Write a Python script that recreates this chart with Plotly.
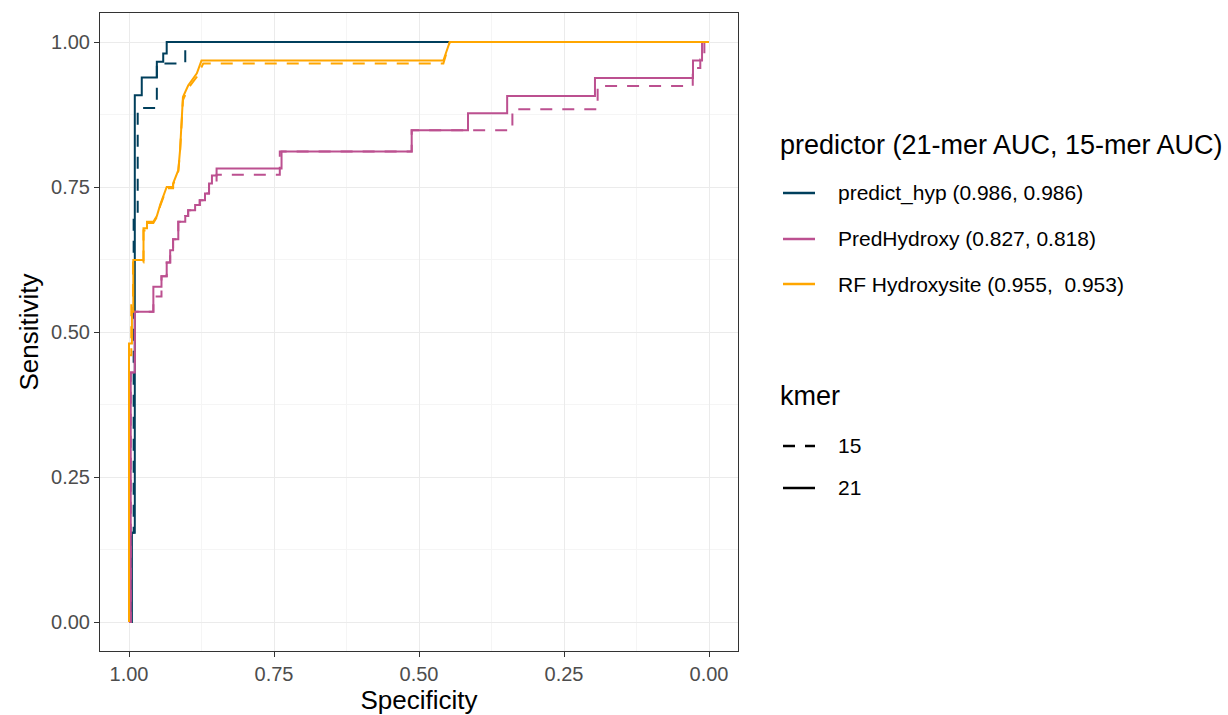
import plotly.graph_objects as go

# ---- data ----
hyp21_spec = [1, 0.995, 0.995, 0.990, 0.990, 0.978, 0.978, 0.952, 0.952, 0.941, 0.941, 0.935, 0.935, 0]
hyp21_sens = [0, 0, 0.154, 0.154, 0.908, 0.908, 0.939, 0.939, 0.966, 0.966, 0.980, 0.980, 1, 1]

hyp15_spec = [1, 0.997, 0.997, 0.992, 0.992, 0.985, 0.985, 0.952, 0.952, 0.903, 0.903, 0]
hyp15_sens = [0, 0, 0.154, 0.154, 0.700, 0.700, 0.886, 0.886, 0.963, 0.963, 1, 1]

pred21_spec = [1, 0.997, 0.997, 0.990, 0.990, 0.958, 0.958, 0.944, 0.944, 0.935, 0.935, 0.929, 0.929,
               0.924, 0.924, 0.915, 0.915, 0.903, 0.903, 0.898, 0.898, 0.886, 0.886, 0.878, 0.878,
               0.869, 0.869, 0.862, 0.862, 0.857, 0.857, 0.849, 0.849, 0.737, 0.737, 0.5126, 0.5126,
               0.4155, 0.4155, 0.348, 0.348, 0.1966, 0.1966, 0.0276, 0.0276, 0.012, 0.012, 0]
pred21_sens = [0, 0, 0.43, 0.43, 0.535, 0.535, 0.578, 0.578, 0.596, 0.596, 0.62, 0.62, 0.641,
               0.641, 0.66, 0.66, 0.69, 0.69, 0.70, 0.70, 0.71, 0.71, 0.719, 0.719, 0.727,
               0.727, 0.739, 0.739, 0.756, 0.756, 0.77, 0.77, 0.782, 0.782, 0.811, 0.811, 0.848,
               0.848, 0.877, 0.877, 0.907, 0.907, 0.938, 0.938, 0.968, 0.968, 1, 1]

pred15_spec = [1, 0.997, 0.997, 0.990, 0.990, 0.958, 0.958, 0.944, 0.944, 0.935, 0.935, 0.929, 0.929,
               0.924, 0.924, 0.915, 0.915, 0.903, 0.903, 0.898, 0.898, 0.886, 0.886, 0.878, 0.878,
               0.869, 0.869, 0.862, 0.862, 0.849, 0.849, 0.740, 0.740, 0.5126, 0.5126,
               0.339, 0.339, 0.192, 0.192, 0.028, 0.028, 0.015, 0.015, 0.008, 0.008, 0]
pred15_sens = [0, 0, 0.43, 0.43, 0.535, 0.535, 0.561, 0.561, 0.596, 0.596, 0.62, 0.62, 0.641,
               0.641, 0.66, 0.66, 0.69, 0.69, 0.70, 0.70, 0.71, 0.71, 0.719, 0.719, 0.727,
               0.727, 0.739, 0.739, 0.756, 0.756, 0.771, 0.771, 0.811, 0.811, 0.848,
               0.848, 0.884, 0.884, 0.924, 0.924, 0.955, 0.955, 0.97, 0.97, 1, 1]

rf21_spec = [1, 1, 0.995, 0.995, 0.9926, 0.9926, 0.975, 0.975, 0.969, 0.969, 0.958, 0.952, 0.946,
             0.940, 0.935, 0.924, 0.924, 0.915, 0.912, 0.907, 0.898, 0.883, 0.875, 0.458, 0.447, 0]
rf21_sens = [0, 0.48, 0.48, 0.535, 0.535, 0.624, 0.624, 0.679, 0.679, 0.690, 0.690, 0.700, 0.720,
             0.735, 0.750, 0.750, 0.756, 0.779, 0.813, 0.905, 0.925, 0.946, 0.968, 0.968, 1, 1]

rf15_spec = [1, 1, 0.996, 0.996, 0.993, 0.993, 0.975, 0.975, 0.969, 0.969, 0.958, 0.952, 0.946,
             0.940, 0.935, 0.924, 0.924, 0.915, 0.912, 0.907, 0.898, 0.883, 0.872, 0.458, 0.447, 0]
rf15_sens = [0, 0.46, 0.46, 0.55, 0.55, 0.62, 0.62, 0.675, 0.675, 0.688, 0.688, 0.698, 0.718,
             0.733, 0.748, 0.748, 0.754, 0.777, 0.81, 0.90, 0.92, 0.94, 0.963, 0.963, 1, 1]

predictor_title = "predictor (21-mer AUC, 15-mer AUC)"
predictor_labels = ["predict_hyp (0.986, 0.986)", "PredHydroxy (0.827, 0.818)",
                    "RF Hydroxysite (0.955,  0.953)"]
predictor_colors = ["#003f5c", "#bc5090", "#ffa600"]
kmer_title = "kmer"
kmer_labels = ["15", "21"]
kmer_dash = ["12px,10px", "solid"]

tick_vals = [0, 0.25, 0.5, 0.75, 1.0]
tick_text = ["0.00", "0.25", "0.50", "0.75", "1.00"]

curves = [
    (hyp15_spec, hyp15_sens, 0, 0), (hyp21_spec, hyp21_sens, 0, 1),
    (pred15_spec, pred15_sens, 1, 0), (pred21_spec, pred21_sens, 1, 1),
    (rf15_spec, rf15_sens, 2, 0), (rf21_spec, rf21_sens, 2, 1),
]

fig = go.Figure()
for sx, sy, p, k in curves:
    fig.add_trace(go.Scatter(
        x=sx, y=sy, mode="lines", showlegend=False, hoverinfo="skip",
        line=dict(color=predictor_colors[p], width=2, dash=kmer_dash[k]),
    ))

# ---- legend (drawn in paper coordinates) ----
L, PW = 100, 638   # plot-area left and width (px)
B, PH = 651, 638   # plot-area bottom and height (px)
def px_x(px):
    return (px - L) / PW
def px_y(py):
    return (B - py) / PH

title_x = 778
key_x0, key_x1, text_x = 783, 815, 836
pred_title_y = 145
pred_item_y = [193, 239, 284]
kmer_title_y = 396
kmer_item_y = [446, 488]

annotations = []
shapes = []
annotations.append(dict(text=predictor_title, x=px_x(title_x), y=px_y(pred_title_y),
                        xref="paper", yref="paper", xanchor="left", yanchor="middle",
                        showarrow=False, font=dict(size=27, color="black")))
for lab, col, yy in zip(predictor_labels, predictor_colors, pred_item_y):
    shapes.append(dict(type="line", xref="paper", yref="paper",
                       x0=px_x(key_x0), x1=px_x(key_x1), y0=px_y(yy), y1=px_y(yy),
                       line=dict(color=col, width=2.5)))
    annotations.append(dict(text=lab, x=px_x(text_x), y=px_y(yy), xref="paper", yref="paper",
                            xanchor="left", yanchor="middle", showarrow=False,
                            font=dict(size=21, color="black")))
annotations.append(dict(text=kmer_title, x=px_x(title_x), y=px_y(kmer_title_y),
                        xref="paper", yref="paper", xanchor="left", yanchor="middle",
                        showarrow=False, font=dict(size=27, color="black")))
for lab, dsh, yy in zip(kmer_labels, kmer_dash, kmer_item_y):
    shapes.append(dict(type="line", xref="paper", yref="paper",
                       x0=px_x(key_x0), x1=px_x(key_x1), y0=px_y(yy), y1=px_y(yy),
                       line=dict(color="black", width=2.5, dash=dsh)))
    annotations.append(dict(text=lab, x=px_x(text_x), y=px_y(yy), xref="paper", yref="paper",
                            xanchor="left", yanchor="middle", showarrow=False,
                            font=dict(size=21, color="black")))

font_family = "Liberation Sans, Arial, sans-serif"
axis_common = dict(
    showgrid=True, gridcolor="#ebebeb", gridwidth=1,
    minor=dict(showgrid=True, gridcolor="#f5f5f5", gridwidth=1, dtick=0.125),
    zeroline=False, showline=True, mirror=True, linecolor="#333333", linewidth=1,
    ticks="outside", ticklen=5, tickcolor="#333333", tickwidth=1,
    tickvals=tick_vals, ticktext=tick_text,
    tickfont=dict(size=20, color="#4d4d4d", family=font_family),
)

fig.update_layout(
    width=1228, height=715,
    margin=dict(l=100, r=490, t=13, b=64, autoexpand=False),
    paper_bgcolor="white", plot_bgcolor="white",
    font=dict(family=font_family, color="black"),
    showlegend=False,
    xaxis=dict(range=[1.05, -0.05], title=dict(text="Specificity", font=dict(size=26), standoff=2),
               **axis_common),
    yaxis=dict(range=[-0.05, 1.05], title=dict(text="Sensitivity", font=dict(size=26), standoff=4),
               **axis_common),
    annotations=annotations,
    shapes=shapes,
)

fig.write_html("out.html")
